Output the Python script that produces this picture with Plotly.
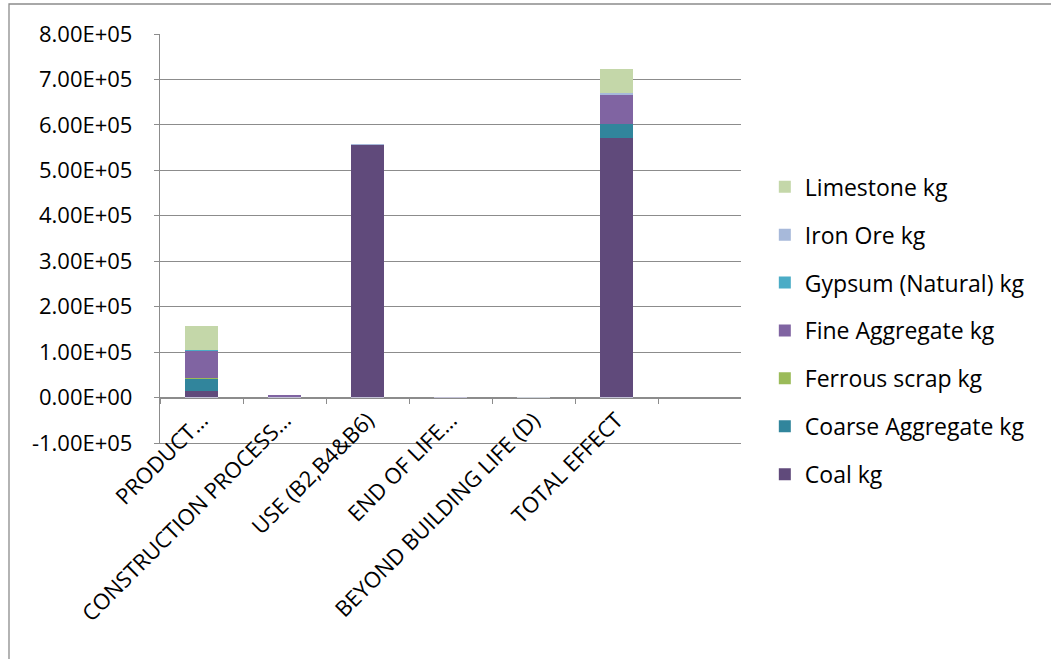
import plotly.graph_objects as go

# Life-cycle stages (the seventh slot on the axis is left empty)
stages = ["PRODUCT\u2026", "CONSTRUCTION PROCESS\u2026", "USE (B2,B4&B6)",
          "END OF LIFE\u2026", "BEYOND BUILDING LIFE (D)", "TOTAL EFFECT"]

# Resource use per stage, kg
coal_kg = [13800, 300, 556000, 200, 0, 572000]
coarse_aggregate_kg = [28000, 0, 0, 0, 0, 30000]
ferrous_scrap_kg = [500, 0, 0, 0, 0, 500]
fine_aggregate_kg = [61000, 6000, 0, 0, 0, 64000]
gypsum_natural_kg = [1200, 0, 0, 0, 0, 1200]
iron_ore_kg = [0, 0, 1500, 0, 0, 1500]
limestone_kg = [52000, 0, 0, 0, 0, 54000]

y_ticks = [-100000, 0, 100000, 200000, 300000, 400000, 500000, 600000, 700000, 800000]
y_tick_labels = ["-1.00E+05", "0.00E+00", "1.00E+05", "2.00E+05", "3.00E+05",
                 "4.00E+05", "5.00E+05", "6.00E+05", "7.00E+05", "8.00E+05"]

series = [
    ("Coal kg", coal_kg, "#604a7b"),
    ("Coarse Aggregate kg", coarse_aggregate_kg, "#31859c"),
    ("Ferrous scrap kg", ferrous_scrap_kg, "#9bbb59"),
    ("Fine Aggregate kg", fine_aggregate_kg, "#8064a2"),
    ("Gypsum (Natural) kg", gypsum_natural_kg, "#4bacc6"),
    ("Iron Ore kg", iron_ore_kg, "#a7b9da"),
    ("Limestone kg", limestone_kg, "#c4d7a9"),
]

FONT = "Open Sans"
GRID = "#8c8c8c"
W, H = 1051, 659
ML, MR, MT, MB = 160, 310, 34, 216
Y_MIN, Y_MAX = -100000, 800000
TICK_SIZE = 22
LEGEND_SIZE = 23

fig = go.Figure()
n = len(series)
for i, (name, vals, color) in enumerate(series):
    fig.add_trace(go.Bar(
        x=stages, y=vals, name=name, legendgroup=name, legendrank=n - i,
        marker=dict(color=color, line=dict(width=0)),
        hoverinfo="skip",
    ))

# zero-line category axis carrying the tick marks and the labels
zero_pos = (0 - Y_MIN) / (Y_MAX - Y_MIN)

fig.update_layout(
    width=W, height=H,
    margin=dict(l=ML, r=MR, t=MT, b=MB, pad=0),
    paper_bgcolor="white", plot_bgcolor="white",
    barmode="stack", bargap=0.6,
    font=dict(family=FONT, size=TICK_SIZE, color="#000000"),
    showlegend=True,
    legend=dict(
        x=1.041, xanchor="left", y=0.679, yanchor="top",
        traceorder="grouped", tracegroupgap=15,
        font=dict(family=FONT, size=LEGEND_SIZE, color="#000000"),
        itemclick=False, itemdoubleclick=False,
    ),
    xaxis=dict(
        range=[-0.5, 6.5], showticklabels=False, ticks="",
        showgrid=False, zeroline=False,
        showline=True, linecolor=GRID, linewidth=1.3,
    ),
    xaxis2=dict(
        overlaying="x", matches="x", anchor="free", position=zero_pos,
        side="bottom", range=[-0.5, 6.5],
        tickmode="array", tickvals=list(range(len(stages))), ticktext=stages,
        tickangle=-45, tickson="boundaries", ticks="outside", ticklen=5,
        tickcolor=GRID, tickwidth=1.3,
        showline=True, linecolor=GRID, linewidth=1.3, showgrid=False,
        tickfont=dict(family=FONT, size=TICK_SIZE, color="#000000"),
    ),
    yaxis=dict(
        range=[Y_MIN, Y_MAX], tickmode="array", tickvals=y_ticks,
        ticktext=y_tick_labels, ticks="outside", ticklen=5, tickcolor=GRID,
        tickwidth=1.3, showline=True, linecolor=GRID, linewidth=1.3,
        showgrid=True, gridcolor=GRID, gridwidth=1.3, zeroline=False,
        tickfont=dict(family=FONT, size=TICK_SIZE, color="#000000"),
        ticklabelstandoff=17,
    ),
)

# invisible trace so the zero-line axis gets drawn
fig.add_trace(go.Bar(x=stages, y=[0] * len(stages), xaxis="x2", yaxis="y",
                     showlegend=False, hoverinfo="skip",
                     marker=dict(color="rgba(0,0,0,0)")))

# chart-area border
pw, ph = W - ML - MR, H - MT - MB
fig.add_shape(type="rect", xref="paper", yref="paper",
              x0=(9 - ML) / pw, x1=(W + 20 - ML) / pw,
              y0=-(H + 20 - MT - ph) / ph, y1=(ph + MT - 4) / ph,
              line=dict(color="#8c8c8c", width=1.3), fillcolor="rgba(0,0,0,0)",
              layer="below")

fig.write_html("out.html", config={"displayModeBar": False})
